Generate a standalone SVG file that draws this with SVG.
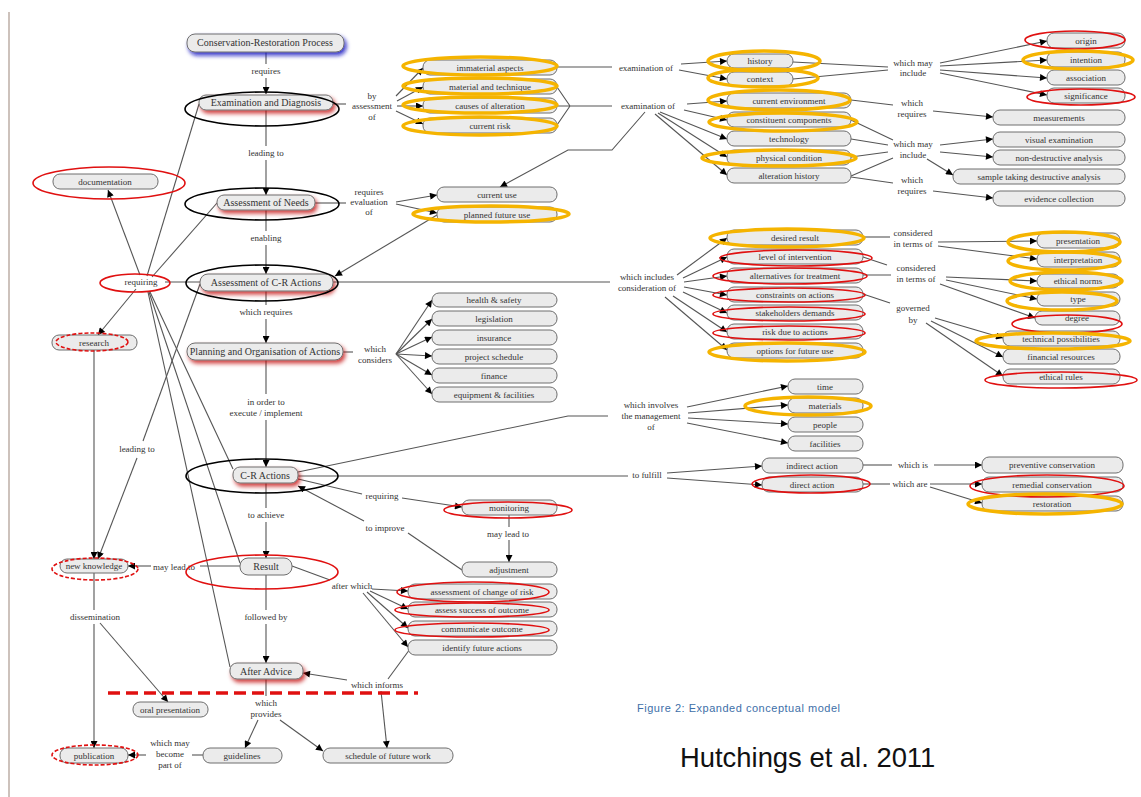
<svg xmlns="http://www.w3.org/2000/svg" width="1141" height="797" viewBox="0 0 1141 797">
<style>
.n rect{fill:#ebebeb;stroke:#6e6e6e;stroke-width:1}
.n text,.l text{font-family:"Liberation Serif",serif;font-size:9px;fill:#333;text-anchor:middle}
.m text{font-size:10px}
.c path{fill:none;stroke:#555;stroke-width:1.1}
.c path.a{marker-end:url(#ah)}
.or{fill:none;stroke:#f5b400;stroke-width:3.5}
.rd{fill:none;stroke:#e01010;stroke-width:1.6}
.rdd{fill:none;stroke:#e01010;stroke-width:1.6;stroke-dasharray:4 2}
.bk{fill:none;stroke:#000;stroke-width:1.6}
</style>
<defs>
<marker id="ah" viewBox="0 0 10 10" refX="10" refY="5" markerWidth="8" markerHeight="7" markerUnits="userSpaceOnUse" orient="auto"><path d="M0,0 L10,5 L0,10 z" fill="#000"/></marker>
<filter id="rs" x="-20%" y="-60%" width="140%" height="240%">
<feFlood flood-color="#c00000" flood-opacity="0.75"/><feComposite in2="SourceAlpha" operator="in"/><feGaussianBlur stdDeviation="2"/><feOffset dx="2" dy="3" result="s"/>
<feMerge><feMergeNode in="s"/><feMergeNode in="SourceGraphic"/></feMerge></filter>
<filter id="bs" x="-20%" y="-60%" width="140%" height="240%">
<feFlood flood-color="#1010c0" flood-opacity="0.85"/><feComposite in2="SourceAlpha" operator="in"/><feGaussianBlur stdDeviation="2"/><feOffset dx="2" dy="3" result="s"/>
<feMerge><feMergeNode in="s"/><feMergeNode in="SourceGraphic"/></feMerge></filter>
</defs>
<rect width="1141" height="797" fill="#fff"/>
<line x1="9" y1="12" x2="9" y2="797" stroke="#bcaea6" stroke-width="1.5"/>

<g id="connectors" class="c">
<path d="M266,52V64"/><path class="a" d="M266,78V94"/>
<path d="M266,110V146"/><path class="a" d="M266,160V195"/>
<path d="M266,210V231"/><path class="a" d="M266,245V274"/>
<path d="M266,291V305"/><path class="a" d="M266,319V343"/>
<path d="M266,360V394"/><path class="a" d="M266,420V467"/>
<path d="M266,483V508"/><path class="a" d="M266,522V558"/>
<path d="M266,575V610"/><path class="a" d="M266,624V663"/>
<path d="M266,679V696"/>
<path class="a" d="M258,720L245,748"/><path class="a" d="M280,720L323,751"/>
<path d="M333,104H346"/>
<path class="a" d="M396,96L423,68"/><path class="a" d="M397,101L423,87"/><path class="a" d="M397,106L423,106"/><path class="a" d="M396,111L423,124"/>
<path d="M557,67H612"/>
<path class="a" d="M681,64L727,61"/><path class="a" d="M679,70L727,79"/>
<path d="M557,87L570,106M557,106H612M557,125L570,106"/>
<path class="a" d="M687,104L727,101"/><path class="a" d="M684,110L727,120"/><path class="a" d="M660,112L727,139"/><path class="a" d="M658,113L727,157"/><path class="a" d="M655,114L727,175"/>
<path class="a" d="M645,112L612,150L568,150L500,187"/>
<path d="M793,62L888,67M793,79L888,70"/>
<path class="a" d="M940,63L1047,41"/><path class="a" d="M940,66L1047,60"/><path class="a" d="M940,70L1047,78"/><path class="a" d="M940,73L1047,95"/>
<path d="M851,100L893,105"/><path class="a" d="M933,111L993,117"/>
<path d="M851,120L893,140M851,139L888,145M851,157L888,152M851,176L893,158"/>
<path class="a" d="M940,145L993,139"/><path class="a" d="M940,152L993,157"/><path class="a" d="M927,159L953,175"/>
<path d="M851,177L893,183"/><path class="a" d="M933,191L993,198"/>
<path d="M315,203H346"/>
<path class="a" d="M396,202L437,195"/><path class="a" d="M396,204L437,213"/>
<path class="a" d="M437,215L335,276"/>
<path d="M165,282H200"/>
<path d="M333,282H610"/>
<path class="a" d="M677,275L727,238"/><path class="a" d="M683,278L727,257"/><path class="a" d="M684,282L727,276"/><path class="a" d="M684,287L727,295"/><path class="a" d="M683,292L727,313"/><path class="a" d="M673,296L727,332"/><path class="a" d="M665,297L727,350"/>
<path d="M863,237H890"/><path class="a" d="M938,242L1037,241"/><path class="a" d="M938,246L1037,259"/>
<path d="M863,257L887,265M863,275H891"/>
<path class="a" d="M946,277L1037,281"/><path class="a" d="M946,280L1037,299"/><path class="a" d="M940,284L1035,318"/>
<path d="M863,294L890,303"/>
<path class="a" d="M935,318L1003,338"/><path class="a" d="M931,321L1003,357"/><path class="a" d="M926,323L1003,376"/>
<path d="M343,352H353"/>
<path class="a" d="M396,354L432,300"/><path class="a" d="M396,354L432,319"/><path class="a" d="M396,354L432,337"/><path class="a" d="M396,354L432,356"/><path class="a" d="M396,354L432,375"/><path class="a" d="M396,354L432,394"/>
<path d="M298,472L568,416H608"/>
<path class="a" d="M687,407L788,386"/><path class="a" d="M688,413L788,405"/><path class="a" d="M688,418L788,424"/><path class="a" d="M687,423L788,443"/>
<path d="M298,476H628"/>
<path class="a" d="M667,473L762,466"/><path class="a" d="M667,478L762,485"/>
<path d="M863,465H892"/><path class="a" d="M934,465H982"/>
<path d="M863,484H890"/><path class="a" d="M930,484H982"/><path class="a" d="M930,487L982,503"/>
<path d="M298,479L362,494"/><path class="a" d="M402,498L462,507"/>
<path d="M509,515V527"/><path class="a" d="M509,540V562"/>
<path d="M462,570L408,533"/><path class="a" d="M364,521L298,486"/>
<path d="M292,566L330,580"/>
<path class="a" d="M372,589L408,591"/><path class="a" d="M370,591L408,609"/><path class="a" d="M367,592L408,628"/><path class="a" d="M363,593L408,647"/>
<path d="M410,649L388,679"/><path class="a" d="M347,680L303,673"/><path class="a" d="M381,691L387,748"/>
<path d="M203,755H192"/><path class="a" d="M146,755H128"/>
<path d="M240,566H200"/><path class="a" d="M151,566H128"/>
<path d="M94,573V610"/><path class="a" d="M94,624V748"/><path class="a" d="M100,623L168,702"/>
<path class="a" d="M94,350V559"/>
<path d="M200,284L143,441"/><path class="a" d="M137,458L98,559"/>
<path class="a" d="M140,275L108,190"/><path d="M147,276L199,104"/><path d="M152,277L217,203"/><path class="a" d="M136,289L98,335"/>
<path d="M150,292L233,469"/><path d="M149,292L240,563"/><path d="M148,292L230,667"/>
</g>

<g id="n-crp" class="n m"><rect x="187" y="34" width="157" height="18" rx="8" filter="url(#bs)"/><text x="265" y="46">Conservation-Restoration Process</text></g>
<g id="n-exam" class="n m"><rect x="199" y="95" width="134" height="15" rx="7" filter="url(#rs)"/><text x="266" y="106">Examination and Diagnosis</text></g>
<g id="n-needs" class="n m"><rect x="217" y="195" width="98" height="15" rx="7" filter="url(#rs)"/><text x="266" y="206">Assessment of Needs</text></g>
<g id="n-cra" class="n m"><rect x="200" y="274" width="133" height="17" rx="8" filter="url(#rs)"/><text x="266" y="286">Assessment of C-R Actions</text></g>
<g id="n-plan" class="n m"><rect x="187" y="343" width="156" height="17" rx="8" filter="url(#rs)"/><text x="265" y="355">Planning and Organisation of Actions</text></g>
<g id="n-cractions" class="n m"><rect x="233" y="467" width="65" height="16" rx="7" filter="url(#rs)"/><text x="265" y="479">C-R Actions</text></g>
<g id="n-result" class="n m"><rect x="240" y="558" width="52" height="17" rx="8"/><text x="266" y="570">Result</text></g>
<g id="n-after" class="n m"><rect x="230" y="663" width="73" height="16" rx="7" filter="url(#rs)"/><text x="266" y="675">After Advice</text></g>

<g id="n-doc" class="n"><rect x="53" y="174" width="105" height="15" rx="7"/><text x="105" y="185">documentation</text></g>
<g id="n-research" class="n"><rect x="52" y="335" width="85" height="15" rx="7"/><text x="94" y="346">research</text></g>
<g id="n-newk" class="n"><rect x="60" y="559" width="68" height="14" rx="7"/><text x="94" y="569">new knowledge</text></g>
<g id="n-oral" class="n"><rect x="133" y="702" width="75" height="15" rx="7"/><text x="170" y="713">oral presentation</text></g>
<g id="n-pub" class="n"><rect x="60" y="748" width="68" height="15" rx="7"/><text x="94" y="759">publication</text></g>
<g id="n-guide" class="n"><rect x="203" y="748" width="79" height="15" rx="7"/><text x="242" y="759">guidelines</text></g>
<g id="n-sched" class="n"><rect x="323" y="748" width="130" height="15" rx="7"/><text x="388" y="759">schedule of future work</text></g>

<g id="n-immat" class="n"><rect x="423" y="60" width="134" height="15" rx="7"/><text x="490" y="71">immaterial aspects</text></g>
<g id="n-mat" class="n"><rect x="423" y="79" width="134" height="15" rx="7"/><text x="490" y="90">material and technique</text></g>
<g id="n-causes" class="n"><rect x="423" y="98" width="134" height="15" rx="7"/><text x="490" y="109">causes of alteration</text></g>
<g id="n-risk" class="n"><rect x="423" y="118" width="134" height="15" rx="7"/><text x="490" y="129">current risk</text></g>
<g id="n-curuse" class="n"><rect x="437" y="187" width="120" height="15" rx="7"/><text x="497" y="198">current use</text></g>
<g id="n-planned" class="n"><rect x="437" y="207" width="120" height="15" rx="7"/><text x="497" y="218">planned future use</text></g>

<g id="n-hs" class="n"><rect x="432" y="293" width="125" height="14" rx="7"/><text x="494" y="303">health &amp; safety</text></g>
<g id="n-leg" class="n"><rect x="432" y="311" width="125" height="15" rx="7"/><text x="494" y="322">legislation</text></g>
<g id="n-ins" class="n"><rect x="432" y="330" width="125" height="15" rx="7"/><text x="494" y="341">insurance</text></g>
<g id="n-ps" class="n"><rect x="432" y="349" width="125" height="15" rx="7"/><text x="494" y="360">project schedule</text></g>
<g id="n-fin" class="n"><rect x="432" y="368" width="125" height="15" rx="7"/><text x="494" y="379">finance</text></g>
<g id="n-equip" class="n"><rect x="432" y="387" width="125" height="15" rx="7"/><text x="494" y="398">equipment &amp; facilities</text></g>

<g id="n-history" class="n"><rect x="727" y="54" width="66" height="14" rx="7"/><text x="760" y="64">history</text></g>
<g id="n-context" class="n"><rect x="727" y="72" width="66" height="14" rx="7"/><text x="760" y="82">context</text></g>
<g id="n-curenv" class="n"><rect x="727" y="93" width="124" height="15" rx="7"/><text x="789" y="104">current environment</text></g>
<g id="n-constit" class="n"><rect x="727" y="112" width="124" height="15" rx="7"/><text x="789" y="123">constituent components</text></g>
<g id="n-tech" class="n"><rect x="727" y="131" width="124" height="15" rx="7"/><text x="789" y="142">technology</text></g>
<g id="n-phys" class="n"><rect x="727" y="150" width="124" height="15" rx="7"/><text x="789" y="161">physical condition</text></g>
<g id="n-alth" class="n"><rect x="727" y="168" width="124" height="15" rx="7"/><text x="789" y="179">alteration history</text></g>

<g id="n-origin" class="n"><rect x="1047" y="33" width="78" height="15" rx="7"/><text x="1086" y="44">origin</text></g>
<g id="n-intention" class="n"><rect x="1047" y="52" width="78" height="15" rx="7"/><text x="1086" y="63">intention</text></g>
<g id="n-assoc" class="n"><rect x="1047" y="70" width="78" height="15" rx="7"/><text x="1086" y="81">association</text></g>
<g id="n-signif" class="n"><rect x="1047" y="88" width="78" height="15" rx="7"/><text x="1086" y="99">significance</text></g>
<g id="n-meas" class="n"><rect x="993" y="110" width="132" height="15" rx="7"/><text x="1059" y="121">measurements</text></g>
<g id="n-visual" class="n"><rect x="993" y="132" width="132" height="15" rx="7"/><text x="1059" y="143">visual examination</text></g>
<g id="n-nondes" class="n"><rect x="993" y="150" width="132" height="15" rx="7"/><text x="1059" y="161">non-destructive analysis</text></g>
<g id="n-sample" class="n"><rect x="953" y="169" width="172" height="15" rx="7"/><text x="1039" y="180">sample taking destructive analysis</text></g>
<g id="n-evid" class="n"><rect x="993" y="191" width="132" height="15" rx="7"/><text x="1059" y="202">evidence collection</text></g>

<g id="n-desired" class="n"><rect x="727" y="230" width="136" height="15" rx="7"/><text x="795" y="241">desired result</text></g>
<g id="n-level" class="n"><rect x="727" y="249" width="136" height="15" rx="7"/><text x="795" y="260">level of intervention</text></g>
<g id="n-altern" class="n"><rect x="727" y="268" width="136" height="15" rx="7"/><text x="795" y="279">alternatives for treatment</text></g>
<g id="n-constr" class="n"><rect x="727" y="287" width="136" height="15" rx="7"/><text x="795" y="298">constraints on actions</text></g>
<g id="n-stake" class="n"><rect x="727" y="305" width="136" height="15" rx="7"/><text x="795" y="316">stakeholders demands</text></g>
<g id="n-riskdue" class="n"><rect x="727" y="324" width="136" height="15" rx="7"/><text x="795" y="335">risk due to actions</text></g>
<g id="n-options" class="n"><rect x="727" y="343" width="136" height="15" rx="7"/><text x="795" y="354">options for future use</text></g>

<g id="n-present" class="n"><rect x="1037" y="233" width="83" height="15" rx="7"/><text x="1078" y="244">presentation</text></g>
<g id="n-interp" class="n"><rect x="1037" y="252" width="83" height="15" rx="7"/><text x="1078" y="263">interpretation</text></g>
<g id="n-ethnorm" class="n"><rect x="1037" y="274" width="83" height="14" rx="7"/><text x="1078" y="284">ethical norms</text></g>
<g id="n-type" class="n"><rect x="1037" y="292" width="83" height="14" rx="7"/><text x="1078" y="302">type</text></g>
<g id="n-degree" class="n"><rect x="1035" y="311" width="85" height="14" rx="7"/><text x="1077" y="321">degree</text></g>
<g id="n-techposs" class="n"><rect x="1003" y="331" width="117" height="15" rx="7"/><text x="1061" y="342">technical possibilities</text></g>
<g id="n-finres" class="n"><rect x="1003" y="349" width="117" height="15" rx="7"/><text x="1061" y="360">financial resources</text></g>
<g id="n-ethrules" class="n"><rect x="1003" y="369" width="117" height="15" rx="7"/><text x="1061" y="380">ethical rules</text></g>

<g id="n-time" class="n"><rect x="788" y="379" width="75" height="15" rx="7"/><text x="825" y="390">time</text></g>
<g id="n-materials" class="n"><rect x="788" y="398" width="75" height="15" rx="7"/><text x="825" y="409">materials</text></g>
<g id="n-people" class="n"><rect x="788" y="417" width="75" height="15" rx="7"/><text x="825" y="428">people</text></g>
<g id="n-facil" class="n"><rect x="788" y="436" width="75" height="15" rx="7"/><text x="825" y="447">facilities</text></g>
<g id="n-indirect" class="n"><rect x="762" y="458" width="101" height="15" rx="7"/><text x="812" y="469">indirect action</text></g>
<g id="n-direct" class="n"><rect x="762" y="477" width="101" height="15" rx="7"/><text x="812" y="488">direct action</text></g>
<g id="n-prevent" class="n"><rect x="982" y="457" width="141" height="16" rx="7"/><text x="1052" y="468">preventive conservation</text></g>
<g id="n-remedial" class="n"><rect x="982" y="477" width="141" height="15" rx="7"/><text x="1052" y="488">remedial conservation</text></g>
<g id="n-restor" class="n"><rect x="982" y="496" width="141" height="15" rx="7"/><text x="1052" y="507">restoration</text></g>

<g id="n-monit" class="n"><rect x="462" y="500" width="95" height="15" rx="7"/><text x="509" y="511">monitoring</text></g>
<g id="n-adjust" class="n"><rect x="462" y="562" width="95" height="15" rx="7"/><text x="509" y="573">adjustment</text></g>
<g id="n-acr" class="n"><rect x="408" y="584" width="149" height="15" rx="7"/><text x="482" y="595">assessment of change of risk</text></g>
<g id="n-aso" class="n"><rect x="408" y="602" width="149" height="15" rx="7"/><text x="482" y="613">assess success of outcome</text></g>
<g id="n-comm" class="n"><rect x="408" y="621" width="149" height="15" rx="7"/><text x="482" y="632">communicate outcome</text></g>
<g id="n-ifa" class="n"><rect x="408" y="640" width="149" height="15" rx="7"/><text x="482" y="651">identify future actions</text></g>

<g id="labels" class="l">
<text x="266" y="74">requires</text>
<text x="266" y="156">leading to</text>
<text x="266" y="241">enabling</text>
<text x="266" y="315">which requires</text>
<text x="266" y="405">in order to</text><text x="266" y="416">execute / implement</text>
<text x="266" y="518">to achieve</text>
<text x="266" y="620">followed by</text>
<text x="266" y="706">which</text><text x="266" y="717">provides</text>
<text x="372" y="99">by</text><text x="372" y="109">assessment</text><text x="372" y="120">of</text>
<text x="369" y="195">requires</text><text x="369" y="205">evaluation</text><text x="369" y="215">of</text>
<text x="646" y="71">examination of</text>
<text x="648" y="109">examination of</text>
<text x="913" y="66">which may</text><text x="913" y="76">include</text>
<text x="912" y="106">which</text><text x="912" y="117">requires</text>
<text x="913" y="147">which may</text><text x="913" y="158">include</text>
<text x="912" y="183">which</text><text x="912" y="194">requires</text>
<text x="647" y="280">which includes</text><text x="647" y="291">consideration of</text>
<text x="913" y="236">considered</text><text x="913" y="247">in terms of</text>
<text x="916" y="271">considered</text><text x="916" y="282">in terms of</text>
<text x="913" y="311">governed</text><text x="913" y="323">by</text>
<text x="375" y="352">which</text><text x="375" y="363">considers</text>
<text x="651" y="408">which involves</text><text x="651" y="419">the management</text><text x="651" y="430">of</text>
<text x="647" y="478">to fulfill</text>
<text x="913" y="468">which is</text>
<text x="910" y="487">which are</text>
<text x="382" y="499">requiring</text>
<text x="385" y="531">to improve</text>
<text x="508" y="537">may lead to</text>
<text x="352" y="589">after which</text>
<text x="377" y="688">which informs</text>
<text x="170" y="746">which may</text><text x="170" y="757">become</text><text x="170" y="768">part of</text>
<text x="174" y="570">may lead to</text>
<text x="95" y="620">dissemination</text>
<text x="137" y="452">leading to</text>
<text x="141" y="285">requiring</text>
</g>

<g id="annotations">
<ellipse class="bk" cx="262" cy="109" rx="77" ry="17"/>
<ellipse class="bk" cx="262" cy="204" rx="77" ry="16"/>
<ellipse class="bk" cx="262" cy="283" rx="76" ry="18"/>
<ellipse class="bk" cx="262" cy="476" rx="76" ry="17"/>
<ellipse class="rd" cx="262" cy="572" rx="76" ry="17"/>
<ellipse class="rd" cx="109" cy="183" rx="76" ry="16"/>
<ellipse class="rd" cx="135" cy="283" rx="35" ry="9"/>
<ellipse class="rd" cx="1075" cy="40" rx="50" ry="9"/>
<ellipse class="rd" cx="1081" cy="97" rx="54" ry="8"/>
<ellipse class="rd" cx="796" cy="258" rx="76" ry="8"/>
<ellipse class="rd" cx="790" cy="276" rx="77" ry="8"/>
<ellipse class="rd" cx="789" cy="295" rx="76" ry="7"/>
<ellipse class="rd" cx="789" cy="314" rx="76" ry="7"/>
<ellipse class="rd" cx="789" cy="333" rx="76" ry="7"/>
<ellipse class="rd" cx="1067" cy="324" rx="55" ry="9"/>
<ellipse class="rd" cx="1061" cy="380" rx="76" ry="8"/>
<ellipse class="rd" cx="811" cy="484" rx="59" ry="9"/>
<ellipse class="rd" cx="1047" cy="486" rx="77" ry="11"/>
<ellipse class="rd" cx="508" cy="510" rx="64" ry="8"/>
<ellipse class="rd" cx="473" cy="592" rx="76" ry="10"/>
<ellipse class="rd" cx="472" cy="610" rx="77" ry="7"/>
<ellipse class="rd" cx="472" cy="630" rx="77" ry="7"/>
<ellipse class="rdd" cx="92" cy="342" rx="36" ry="9"/>
<ellipse class="rdd" cx="95" cy="569" rx="43" ry="11"/>
<ellipse class="rdd" cx="95" cy="755" rx="43" ry="10"/>
<ellipse class="or" cx="480" cy="66" rx="77" ry="9"/>
<ellipse class="or" cx="480" cy="86" rx="77" ry="8"/>
<ellipse class="or" cx="480" cy="105" rx="77" ry="8"/>
<ellipse class="or" cx="480" cy="126" rx="77" ry="9"/>
<ellipse class="or" cx="491" cy="214" rx="78" ry="8"/>
<ellipse class="or" cx="764" cy="61" rx="56" ry="10"/>
<ellipse class="or" cx="763" cy="78" rx="55" ry="9"/>
<ellipse class="or" cx="779" cy="100" rx="71" ry="10"/>
<ellipse class="or" cx="783" cy="122" rx="74" ry="9"/>
<ellipse class="or" cx="779" cy="158" rx="77" ry="8"/>
<ellipse class="or" cx="1078" cy="60" rx="55" ry="9"/>
<ellipse class="or" cx="787" cy="238" rx="77" ry="9"/>
<ellipse class="or" cx="787" cy="352" rx="78" ry="9"/>
<ellipse class="or" cx="1064" cy="242" rx="56" ry="10"/>
<ellipse class="or" cx="1064" cy="261" rx="56" ry="9"/>
<ellipse class="or" cx="1066" cy="281" rx="56" ry="9"/>
<ellipse class="or" cx="1062" cy="301" rx="55" ry="9"/>
<ellipse class="or" cx="1053" cy="341" rx="77" ry="8"/>
<ellipse class="or" cx="808" cy="406" rx="63" ry="9"/>
<ellipse class="or" cx="1045" cy="504" rx="77" ry="10"/>
<line x1="108" y1="693" x2="418" y2="693" stroke="#e01010" stroke-width="3.5" stroke-dasharray="12 6"/>
</g>

<text x="637" y="712" font-family="Liberation Sans, sans-serif" font-size="11" fill="#3d6fa8" textLength="203">Figure 2:  Expanded conceptual model</text>
<text x="680" y="767" font-family="Liberation Sans, sans-serif" font-size="27.4" fill="#111">Hutchings et al. 2011</text>
</svg>
